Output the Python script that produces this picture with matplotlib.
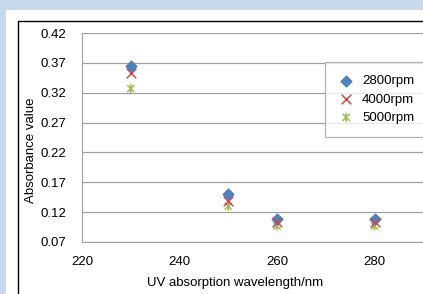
import matplotlib.pyplot as plt
import matplotlib.patches as mpatches
from matplotlib.path import Path

plt.rcParams['font.family'] = ['Liberation Sans', 'DejaVu Sans']

wavelengths = [230, 250, 260, 280]
rpm_2800 = [0.364, 0.150, 0.109, 0.108]
rpm_4000 = [0.353, 0.138, 0.104, 0.103]
rpm_5000 = [0.327, 0.130, 0.097, 0.097]
labels = ['2800rpm', '4000rpm', '5000rpm']
y_ticks = [0.07, 0.12, 0.17, 0.22, 0.27, 0.32, 0.37, 0.42]
x_ticks = [220, 240, 260, 280]

W, H = 423, 294
FS = 9.5

# Excel-style star: an x with a vertical bar
star = Path([(-1, -1), (1, 1), (-1, 1), (1, -1), (0, -1.3), (0, 1.3)],
            [Path.MOVETO, Path.LINETO, Path.MOVETO, Path.LINETO,
             Path.MOVETO, Path.LINETO])

fig = plt.figure(figsize=(W / 100, H / 100), dpi=100, facecolor='#c8d9ec')

# white chart panel and black chart border
fig.patches.append(mpatches.Rectangle((6 / W, 0), 1, 1 - 10 / H, transform=fig.transFigure,
                                      facecolor='white', edgecolor='none', zorder=-2))
fig.patches.append(mpatches.Rectangle((18 / W, -0.1), 1, 1 - 21 / H + 0.1, transform=fig.transFigure,
                                      facecolor='none', edgecolor='black', linewidth=1.0, zorder=-1))

ax = fig.add_axes([82 / W, 52 / H, 390 / W, 209 / H])
ax.set_facecolor('white')

ax.scatter(wavelengths, rpm_2800, marker='D', s=30, color='#4f81bd', label=labels[0], zorder=3)
ax.scatter(wavelengths, rpm_4000, marker='x', s=48, color='#c0504d', linewidths=1.1,
           label=labels[1], zorder=3)
ax.scatter(wavelengths, rpm_5000, marker=star, s=45, color='#9bbb59', linewidths=1.1,
           facecolors='none', edgecolors='#9bbb59', label=labels[2], zorder=2)

ax.set_xlim(220, 300)
ax.set_ylim(0.07, 0.42)
ax.set_xticks(x_ticks)
ax.set_yticks(y_ticks)
ax.set_yticklabels([f'{v:.2f}' for v in y_ticks])
ax.tick_params(length=0, labelsize=FS)
ax.tick_params(axis='y', pad=11)
ax.tick_params(axis='x', pad=10)
ax.grid(axis='y', color='#a0a0a0', linewidth=0.9)
ax.set_axisbelow(True)
for side in ['left', 'bottom']:
    ax.spines[side].set_color('#a0a0a0')
for side in ['top', 'right']:
    ax.spines[side].set_visible(False)

ax.set_xlabel('UV absorption wavelength/nm', fontsize=FS)
ax.xaxis.set_label_coords((235 - 82) / 390, -(277 - 242) / 209)
ax.set_ylabel('Absorbance value', fontsize=FS)
ax.yaxis.set_label_coords(-(82 - 37) / 390, 0.44)

leg = ax.legend(loc='upper left', bbox_to_anchor=((325 - 82) / 390, (242 - 62) / 209),
                fontsize=FS, frameon=True, fancybox=False, edgecolor='#a0a0a0',
                handlelength=1.2, handletextpad=0.6, borderpad=1.0, labelspacing=0.45,
                borderaxespad=0)
leg.get_frame().set_linewidth(0.9)

fig.savefig('out.png', dpi=100, facecolor=fig.get_facecolor())
